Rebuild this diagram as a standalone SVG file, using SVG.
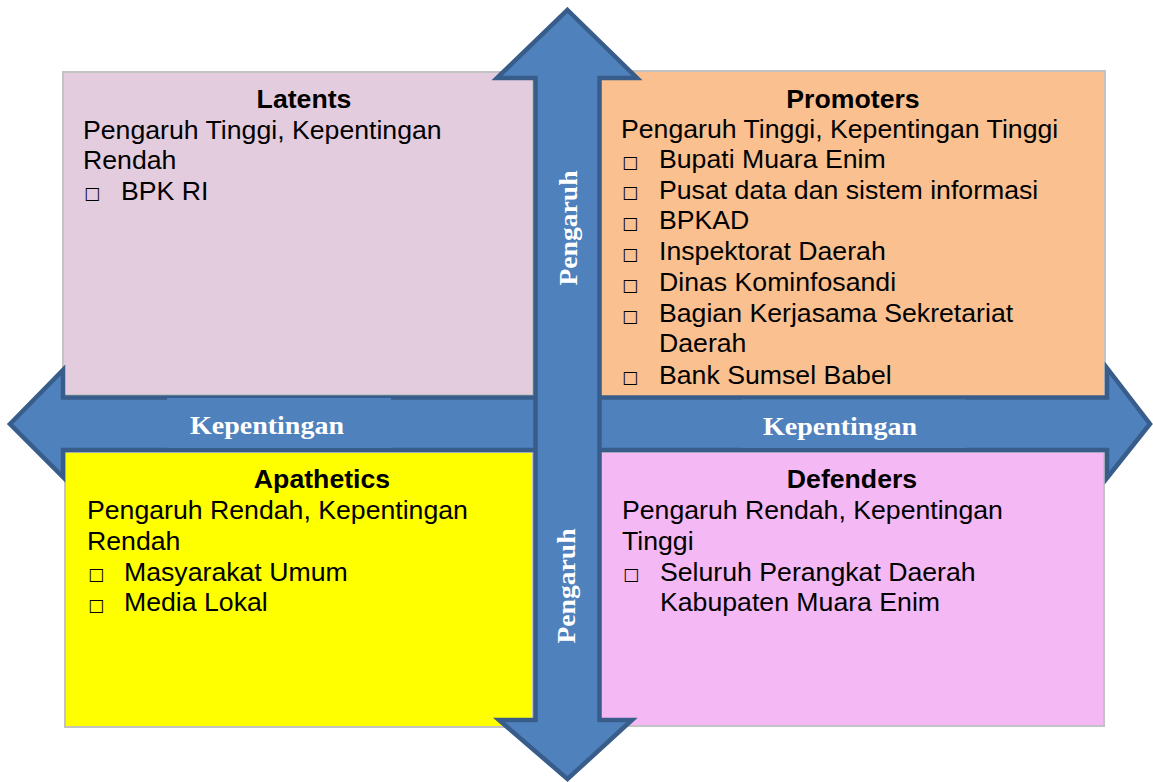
<svg xmlns="http://www.w3.org/2000/svg" width="1153" height="782" viewBox="0 0 1153 782">
  <style>
    .quad { stroke: #C3C3C3; stroke-width: 2; }
    .title { font-family: "Liberation Sans", Arial, sans-serif; font-size: 26.67px; font-weight: bold; fill: #000; text-anchor: middle; }
    .body { font-family: "Liberation Sans", Arial, sans-serif; font-size: 26.67px; fill: #000; }
    .bul { font-family: "DejaVu Sans", "Liberation Sans", sans-serif; font-size: 17px; fill: #000; }
    .arrow { fill: #4F81BD; stroke: #385D8A; stroke-width: 4.5; stroke-linejoin: miter; }
    .axis { font-family: "Liberation Serif", "Times New Roman", serif; font-size: 25px; font-weight: bold; fill: #FFFFFF; text-anchor: middle; }
    .tag { fill: #4F81BD; }
  </style>

  <!-- quadrant boxes -->
  <g id="latents">
    <rect class="quad" x="63" y="72" width="470" height="323" fill="#E4CCDF"/>
    <text class="title" x="304" y="108">Latents</text>
    <text class="body" x="83" y="139">Pengaruh Tinggi, Kepentingan</text>
    <text class="body" x="83" y="169">Rendah</text>
    <text class="bul" x="84" y="199">□</text>
    <text class="body" x="121" y="200">BPK RI</text>
  </g>

  <g id="promoters">
    <rect class="quad" x="601" y="71" width="504" height="326" fill="#FAC090"/>
    <text class="title" x="853" y="108">Promoters</text>
    <text class="body" x="621" y="138">Pengaruh Tinggi, Kepentingan Tinggi</text>
    <text class="bul" x="622" y="168">□</text>
    <text class="body" x="659" y="168">Bupati Muara Enim</text>
    <text class="bul" x="622" y="198">□</text>
    <text class="body" x="659" y="199">Pusat data dan sistem informasi</text>
    <text class="bul" x="622" y="229">□</text>
    <text class="body" x="659" y="229">BPKAD</text>
    <text class="bul" x="622" y="260">□</text>
    <text class="body" x="659" y="260">Inspektorat Daerah</text>
    <text class="bul" x="622" y="291">□</text>
    <text class="body" x="659" y="291">Dinas Kominfosandi</text>
    <text class="bul" x="622" y="322">□</text>
    <text class="body" x="659" y="322">Bagian Kerjasama Sekretariat</text>
    <text class="body" x="659" y="352">Daerah</text>
    <text class="bul" x="622" y="383">□</text>
    <text class="body" x="659" y="384">Bank Sumsel Babel</text>
  </g>

  <g id="apathetics">
    <rect class="quad" x="65" y="452" width="468" height="275" fill="#FFFF00"/>
    <text class="title" x="322" y="488">Apathetics</text>
    <text class="body" x="87" y="519">Pengaruh Rendah, Kepentingan</text>
    <text class="body" x="87" y="550">Rendah</text>
    <text class="bul" x="88" y="580">□</text>
    <text class="body" x="124" y="581">Masyarakat Umum</text>
    <text class="bul" x="88" y="611">□</text>
    <text class="body" x="124" y="611">Media Lokal</text>
  </g>

  <g id="defenders">
    <rect class="quad" x="601" y="452" width="503" height="274" fill="#F4B8F4"/>
    <text class="title" x="852" y="488">Defenders</text>
    <text class="body" x="622" y="519">Pengaruh Rendah, Kepentingan</text>
    <text class="body" x="622" y="550">Tinggi</text>
    <text class="bul" x="623" y="580">□</text>
    <text class="body" x="660" y="581">Seluruh Perangkat Daerah</text>
    <text class="body" x="660" y="611">Kabupaten Muara Enim</text>
  </g>

  <!-- axes: double-headed arrows with their labels -->
  <g id="connectors">
    <polygon id="axis-kepentingan" class="arrow"
      points="10,424 63,370 63,397.5 1107,397.5 1107,368 1150,424 1107,478 1107,450 63,450 63,477"/>
    <rect class="tag" x="167" y="398" width="224" height="50"/>
    <rect class="tag" x="742" y="399.5" width="224" height="48.5"/>
    <text class="axis" x="267" y="434" textLength="154" lengthAdjust="spacingAndGlyphs">Kepentingan</text>
    <text class="axis" x="840" y="435" textLength="154" lengthAdjust="spacingAndGlyphs">Kepentingan</text>

    <polygon id="axis-pengaruh" class="arrow"
      points="567.5,10 637,78 599.5,78 599.5,720 632,720 567.5,779 499,720 535.5,720 535.5,78 497,78"/>
    <text class="axis" transform="translate(577 228) rotate(-90)" textLength="115" lengthAdjust="spacingAndGlyphs">Pengaruh</text>
    <text class="axis" transform="translate(575 586) rotate(-90)" textLength="115" lengthAdjust="spacingAndGlyphs">Pengaruh</text>
  </g>
</svg>
